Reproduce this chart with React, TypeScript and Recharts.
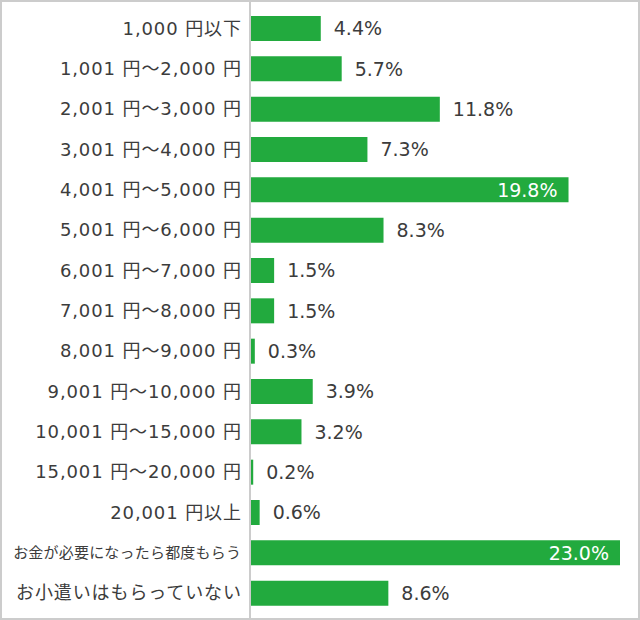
import { BarChart, Bar, XAxis, YAxis, LabelList } from 'recharts';

const categories = [
  '1,000 円以下',
  '1,001 円〜2,000 円',
  '2,001 円〜3,000 円',
  '3,001 円〜4,000 円',
  '4,001 円〜5,000 円',
  '5,001 円〜6,000 円',
  '6,001 円〜7,000 円',
  '7,001 円〜8,000 円',
  '8,001 円〜9,000 円',
  '9,001 円〜10,000 円',
  '10,001 円〜15,000 円',
  '15,001 円〜20,000 円',
  '20,001 円以上',
  'お金が必要になったら都度もらう',
  'お小遣いはもらっていない',
];

const shares = [4.4, 5.7, 11.8, 7.3, 19.8, 8.3, 1.5, 1.5, 0.3, 3.9, 3.2, 0.2, 0.6, 23.0, 8.6];

const data = categories.map((name, i) => ({ name, value: shares[i] }));

const FONT = '"DejaVu Sans", "Noto Sans CJK JP", sans-serif';
const GREEN = '#22aa3e';
const TEXT = '#3c3c3c';

const CategoryTick = (props: any) => {
  const { x, y, payload } = props;
  const label: string = payload.value;
  // the longest label is drawn smaller so it fits left of the axis
  const small = label.length > 13 && !/\d/.test(label);
  const size = small ? 15 : 18;
  const spacing = small ? 0.2 : 0.9;
  return (
    <text
      x={x + spacing}
      y={y}
      dy="0.36em"
      textAnchor="end"
      fill={TEXT}
      fontSize={size}
      letterSpacing={spacing}
      fontFamily={FONT}
    >
      {label}
    </text>
  );
};

const ValueLabel = (props: any) => {
  const { x, y, width, height, value } = props;
  const inside = value > 15;
  const cy = y + height / 2;
  return (
    <text
      x={inside ? x + width - 11 : x + width + 13}
      y={cy}
      dy="0.36em"
      textAnchor={inside ? 'end' : 'start'}
      fill={inside ? '#fff' : TEXT}
      fontSize={19}
      fontFamily={FONT}
    >
      {Number(value).toFixed(1)}%
    </text>
  );
};

const App = () => {
  return (
    <div
      style={{
        position: 'absolute',
        left: 0,
        top: 0,
        width: 640,
        height: 620,
        border: '2px solid #ccc',
        boxSizing: 'border-box',
        background: '#fff',
      }}
    >
      <BarChart
        width={636}
        height={616}
        data={data}
        layout="vertical"
        margin={{ top: 0, right: 18, bottom: 0, left: 0 }}
        barSize={25}
      >
        <XAxis type="number" domain={[0, 23]} hide />
        <YAxis
          type="category"
          dataKey="name"
          width={248}
          padding={{ top: 6, bottom: 5 }}
          tickLine={false}
          tickMargin={3}
          axisLine={{ stroke: '#ccc', strokeWidth: 2 }}
          tick={CategoryTick}
          interval={0}
        />
        <Bar dataKey="value" fill={GREEN} isAnimationActive={false}>
          <LabelList dataKey="value" content={ValueLabel} />
        </Bar>
      </BarChart>
    </div>
  );
};

export default App;
